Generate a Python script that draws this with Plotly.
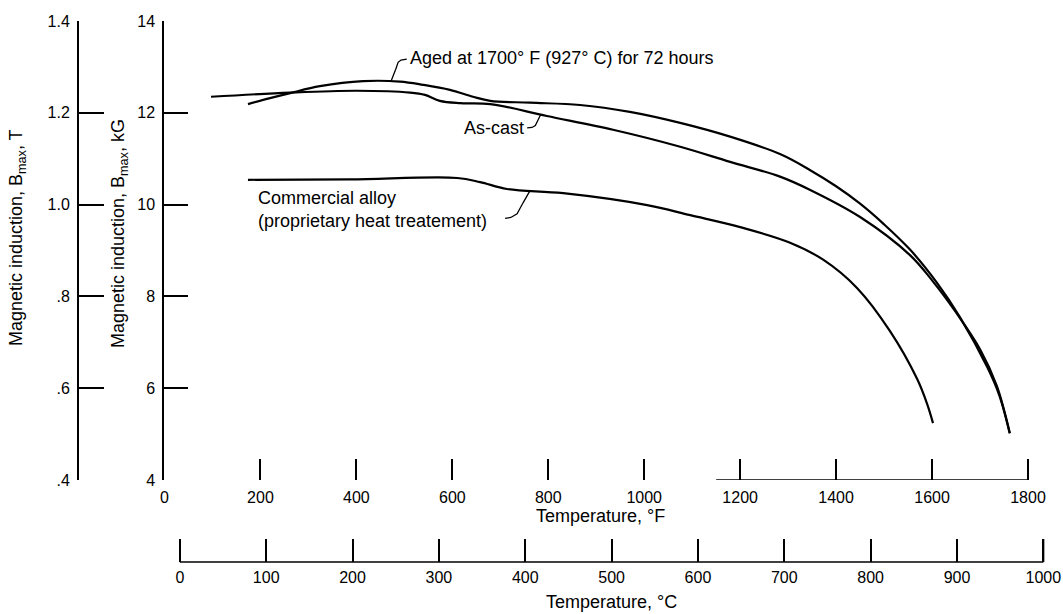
import numpy as np
import plotly.graph_objects as go

# ---- data: temperature (deg F) vs. maximum magnetic induction (kG) ----
aged_F = [174, 220, 262, 324, 414, 491, 539, 595, 643, 679, 762, 866, 970,
          1075, 1179, 1283, 1346, 1400, 1450, 1500, 1554, 1610, 1658, 1715,
          1740, 1762]
aged_kG = [12.19, 12.32, 12.43, 12.58, 12.69, 12.68, 12.61, 12.50, 12.35, 12.26,
           12.22, 12.17, 12.02, 11.78, 11.48, 11.10, 10.75, 10.40, 10.02, 9.57,
           9.02, 8.30, 7.55, 6.46, 5.85, 5.02]

ascast_F = [97, 262, 401, 512, 543, 574, 616, 679, 797, 935, 1075, 1179, 1283,
            1346, 1450, 1554, 1600, 1650, 1700, 1735, 1762]
ascast_kG = [12.35, 12.44, 12.48, 12.44, 12.39, 12.26, 12.21, 12.19, 11.93, 11.63,
             11.26, 10.93, 10.61, 10.32, 9.73, 8.90, 8.35, 7.65, 6.85, 6.05, 5.02]

comm_F = [174, 387, 610, 658, 714, 831, 1006, 1096, 1200, 1304, 1373, 1444,
          1512, 1569, 1590, 1602]
comm_kG = [10.54, 10.55, 10.58, 10.49, 10.34, 10.25, 9.99, 9.77, 9.51, 9.17,
           8.80, 8.18, 7.25, 6.20, 5.65, 5.24]

# ---- axis ticks ----
f_ticks = list(range(0, 1801, 200))
c_ticks = list(range(0, 1001, 100))
kg_ticks = [4, 6, 8, 10, 12, 14]
t_ticks = [0.4, 0.6, 0.8, 1.0, 1.2, 1.4]
t_labels = [".4", ".6", ".8", "1.0", "1.2", "1.4"]

W, H = 1063, 614
FONT = "Liberation Sans, Arial, sans-serif"

# plot-area geometry (pixels): 0 F at 164.5 px, 1800 F at 1028 px
px0, px1800 = 164.5, 1028.0
px_per_F = (px1800 - px0) / 1800.0
y_bot_px, y_top_px = 480.0, 21.0           # 4 kG .. 14 kG
f_lo, f_hi = -0.5, 1830.0
c_lo, c_hi = -20.0, 1020.0
c_line_py = 562
F_TICKLEN, C_TICKLEN = 21, 23


def fx(px):
    return px / W


def fy(py):
    return 1 - py / H


def f_to_frac(f):
    return fx(px0 + f * px_per_F)


# Celsius scale aligned with the Fahrenheit scale
c_dom = [f_to_frac(c_lo * 1.8 + 32), f_to_frac(c_hi * 1.8 + 32)]

fig = go.Figure()

# empty traces so the secondary scales (deg C, tesla) are laid out
fig.add_trace(go.Scatter(x=[], y=[], xaxis="x2", yaxis="y", showlegend=False,
                         hoverinfo="skip"))
fig.add_trace(go.Scatter(x=[], y=[], xaxis="x", yaxis="y2", showlegend=False,
                         hoverinfo="skip"))

for xs, ys in [(aged_F, aged_kG), (ascast_F, ascast_kG), (comm_F, comm_kG)]:
    fig.add_trace(go.Scatter(
        x=xs, y=ys, mode="lines",
        line=dict(color="black", width=2.2, shape="spline", smoothing=1.0),
        hoverinfo="skip", showlegend=False))


# leader lines from labels to curves
def leader(points):
    d = "M " + " L ".join(f"{x},{y}" for x, y in points)
    return dict(type="path", path=d, xref="x", yref="y",
                line=dict(color="black", width=1.3))


aged_at = 472
ascast_at = 784
comm_at = 762
shapes = [
    leader([(aged_at, float(np.interp(aged_at, aged_F, aged_kG))),
            (482, 12.95), (487, 13.10), (493, 13.15), (505, 13.17)]),
    leader([(756, 11.67), (766, 11.68), (773, 11.72),
            (ascast_at, float(np.interp(ascast_at, ascast_F, ascast_kG)))]),
    leader([(710, 9.70), (722, 9.72), (735, 9.80), (748, 10.05),
            (comm_at, float(np.interp(comm_at, comm_F, comm_kG)))]),
    # partial base line of the Fahrenheit scale
    dict(type="line", xref="x", yref="y", x0=1150, x1=f_ticks[-1], y0=4, y1=4,
         line=dict(color="black", width=1.3)),
    # base line of the Celsius scale, from first to last tick
    dict(type="line", xref="x2", yref="paper", x0=c_ticks[0], x1=c_ticks[-1],
         y0=fy(c_line_py), y1=fy(c_line_py),
         line=dict(color="black", width=1.5)),
    # closing tick marks at the right end of both temperature scales
    dict(type="line", xref="x", yref="paper", x0=f_ticks[-1], x1=f_ticks[-1],
         y0=fy(y_bot_px), y1=fy(y_bot_px - F_TICKLEN),
         line=dict(color="black", width=2)),
    dict(type="line", xref="x2", yref="paper", x0=c_ticks[-1], x1=c_ticks[-1],
         y0=fy(c_line_py), y1=fy(c_line_py - C_TICKLEN),
         line=dict(color="black", width=2)),
]

tick_font = dict(family=FONT, size=16, color="black")
title_font = dict(family=FONT, size=18, color="black")

annotations = [
    dict(text="Magnetic induction, B<sub>max</sub>, T", x=fx(18), y=fy(238),
         xref="paper", yref="paper", textangle=-90, showarrow=False,
         font=title_font, xanchor="center", yanchor="middle"),
    dict(text="Magnetic induction, B<sub>max</sub>, kG", x=fx(120), y=fy(234),
         xref="paper", yref="paper", textangle=-90, showarrow=False,
         font=title_font, xanchor="center", yanchor="middle"),
    dict(text="Temperature, °F", x=fx(600), y=fy(516), xref="paper", yref="paper",
         showarrow=False, font=title_font, xanchor="center", yanchor="middle"),
    dict(text="Temperature, °C", x=fx(611), y=fy(602), xref="paper", yref="paper",
         showarrow=False, font=title_font, xanchor="center", yanchor="middle"),
    dict(text="Aged at 1700° F (927° C) for 72 hours", x=507, y=13.19,
         xref="x", yref="y", showarrow=False, font=title_font,
         xanchor="left", yanchor="middle"),
    dict(text="As-cast", x=753, y=11.67, xref="x", yref="y", showarrow=False,
         font=title_font, xanchor="right", yanchor="middle"),
    dict(text="Commercial alloy<br>(proprietary heat treatement)", x=190, y=9.90,
         xref="x", yref="y", showarrow=False, font=title_font, align="left",
         xanchor="left", yanchor="middle"),
]

common = dict(showgrid=False, zeroline=False, tickfont=tick_font,
              tickcolor="black", tickwidth=2, automargin=False, fixedrange=True)

fig.update_layout(
    width=W, height=H, autosize=False,
    margin=dict(l=0, r=0, t=0, b=0, pad=0),
    paper_bgcolor="white", plot_bgcolor="rgba(0,0,0,0)",
    font=dict(family=FONT, color="black"),
    showlegend=False,
    xaxis=dict(domain=[f_to_frac(f_lo), f_to_frac(f_hi)], range=[f_lo, f_hi],
               tickvals=f_ticks, ticks="inside", ticklen=F_TICKLEN,
               showline=False, anchor="y", ticklabelstandoff=6, **common),
    xaxis2=dict(domain=c_dom, range=[c_lo, c_hi], tickvals=c_ticks,
                ticks="inside", ticklen=C_TICKLEN, showline=False,
                anchor="free", position=fy(c_line_py),
                ticklabelstandoff=4, **common),
    yaxis=dict(domain=[fy(y_bot_px), fy(y_top_px)], range=[4, 14],
               tickvals=kg_ticks, ticks="inside", ticklen=24, showline=True,
               linewidth=2, linecolor="black", anchor="x",
               ticklabelstandoff=4, **common),
    yaxis2=dict(range=[0.4, 1.4], tickvals=t_ticks, ticktext=t_labels,
                overlaying="y", anchor="free", position=fx(78), side="left",
                ticks="inside", ticklen=25, showline=True, linewidth=2,
                linecolor="black", ticklabelstandoff=4, **common),
    shapes=shapes,
    annotations=annotations,
)

fig.write_html("out.html", config={"displayModeBar": False})
